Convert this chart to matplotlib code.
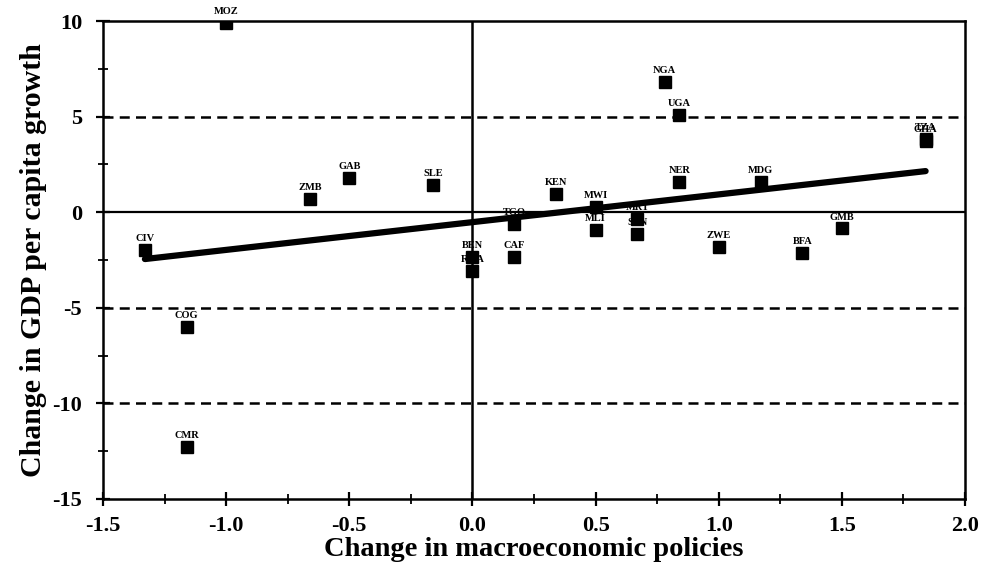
import numpy as np
from matplotlib import pyplot as plt
from matplotlib.ticker import MultipleLocator

# country codes and their (policy change, growth change)
countries = ['MOZ', 'ZMB', 'GAB', 'SLE', 'CIV', 'COG', 'CMR', 'BEN', 'RWA',
             'TGO', 'CAF', 'KEN', 'MWI', 'MLI', 'MRT', 'SEN', 'NER', 'NGA',
             'UGA', 'MDG', 'ZWE', 'BFA', 'GMB', 'TZA', 'GHA']
policy = [-1.0, -0.66, -0.5, -0.16, -1.33, -1.16, -1.16, 0.0, 0.0,
          0.17, 0.17, 0.34, 0.5, 0.5, 0.67, 0.67, 0.84, 0.78,
          0.84, 1.17, 1.0, 1.34, 1.5, 1.84, 1.84]
growth = [9.9, 0.7, 1.8, 1.4, -2.0, -6.0, -12.3, -2.35, -3.05,
          -0.6, -2.35, 0.95, 0.25, -0.95, -0.35, -1.15, 1.6, 6.8,
          5.1, 1.6, -1.8, -2.15, -0.85, 3.85, 3.75]

# fitted regression line
fit_x = [-1.33, 1.84]
fit_y = [-2.45, 2.15]

dashed_levels = [5, -5, -10]

serif = ['Liberation Serif', 'DejaVu Serif']

fig = plt.figure(figsize=(9.85, 5.79), dpi=100)
ax = fig.add_axes([0.1046, 0.1382, 0.8751, 0.8255])

# reference lines
for lev in dashed_levels:
    ax.axhline(lev, color='black', lw=1.8, dashes=(4, 2.5), zorder=1)
ax.axhline(0, color='black', lw=1.6, zorder=1)
ax.axvline(0, color='black', lw=1.8, zorder=1)

ax.plot(policy, growth, 's', color='black', markersize=8.5, zorder=3)
ax.plot(fit_x, fit_y, color='black', lw=4.5, solid_capstyle='round', zorder=4)

for name, xv, yv in zip(countries, policy, growth):
    ax.annotate(name, (xv, yv), xytext=(0, 5), textcoords='offset points',
                ha='center', va='bottom', fontsize=7.5, fontweight='bold',
                family=serif, zorder=5)

ax.set_xlim(-1.5, 2.0)
ax.set_ylim(-15, 10)
ax.xaxis.set_major_locator(MultipleLocator(0.5))
ax.xaxis.set_minor_locator(MultipleLocator(0.25))
ax.yaxis.set_major_locator(MultipleLocator(5))
ax.yaxis.set_minor_locator(MultipleLocator(2.5))
ax.set_xticklabels([f'{v:.1f}' for v in ax.get_xticks()])
ax.set_yticklabels([f'{v:.0f}' for v in ax.get_yticks()])

for sp in ax.spines.values():
    sp.set_linewidth(1.8)
ax.tick_params(which='major', direction='inout', length=10, width=1.6,
               labelsize=16)
ax.tick_params(axis='x', which='major', pad=7)
ax.tick_params(axis='y', which='major', pad=10)
ax.tick_params(which='minor', direction='inout', length=7, width=1.3)
for lab in ax.get_xticklabels() + ax.get_yticklabels():
    lab.set_family(serif)
    lab.set_fontweight('bold')

ax.set_xlabel('Change in macroeconomic policies', family=serif,
              fontweight='bold', fontsize=20.5, labelpad=1)
ax.set_ylabel('Change in GDP per capita growth', family=serif,
              fontweight='bold', fontsize=21.5, labelpad=4)

fig.savefig('out.png', dpi=100)
